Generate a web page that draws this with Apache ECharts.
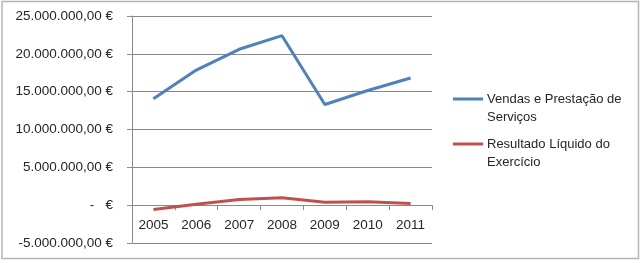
<!DOCTYPE html>
<html>
<head>
<meta charset="utf-8">
<script src="https://cdn.jsdelivr.net/npm/echarts@6/dist/echarts.min.js"></script>
<style>
  html, body { margin: 0; padding: 0; background: #fff; }
  #chart { width: 644px; height: 263px; }
</style>
</head>
<body>
<div id="chart"></div>
<script>
// anos
var anos = ['2005', '2006', '2007', '2008', '2009', '2010', '2011'];
// valores (em euros)
var vendas = [14050000, 17850000, 20600000, 22400000, 13300000, 15150000, 16800000];
var resultado = [-570000, 120000, 750000, 970000, 400000, 450000, 220000];
var nomes = ['Vendas e Prestação de\nServiços', 'Resultado Líquido do\nExercício'];

function euro(v) {
  if (v === 0) return '-   €';
  var neg = v < 0;
  var s = Math.abs(v).toFixed(0).replace(/\B(?=(\d{3})+(?!\d))/g, '.');
  return (neg ? '-' : '') + s + ',00 €';
}

var chart = echarts.init(document.getElementById('chart'));
var fonte = 'Liberation Sans, Arial, sans-serif';

var option = {
  animation: false,
  textStyle: { fontFamily: fonte },
  graphic: [{
    type: 'rect',
    shape: { x: 2, y: 1.5, width: 636.5, height: 257 },
    style: { fill: 'none', stroke: '#b4b4b4', lineWidth: 1.5 },
    silent: true
  }],
  grid: { left: 132, right: 212, top: 16, bottom: 20 },
  legend: {
    orient: 'vertical',
    left: 448,
    top: 67,
    itemWidth: 30,
    itemHeight: 3,
    itemGap: -9,
    icon: 'rect',
    // linha em branco no topo para o traço ficar na primeira linha do texto
    formatter: function (n) { return '\n' + n; },
    textStyle: { fontSize: 13, color: '#262626', lineHeight: 18, fontFamily: fonte, padding: [0, 0, 0, -1] },
    data: nomes
  },
  xAxis: {
    type: 'category',
    data: anos,
    boundaryGap: true,
    axisLine: { onZero: true, lineStyle: { color: '#8a8a8a', width: 1 } },
    axisTick: { show: true, length: 5, inside: false, lineStyle: { color: '#8a8a8a' } },
    axisLabel: { color: '#262626', fontSize: 13.5, margin: -25 }
  },
  yAxis: {
    type: 'value',
    min: -5000000,
    max: 25000000,
    interval: 5000000,
    axisLine: { show: true, lineStyle: { color: '#8a8a8a', width: 1 } },
    axisTick: { show: true, length: 5, lineStyle: { color: '#8a8a8a' } },
    splitLine: { lineStyle: { color: '#8a8a8a', width: 1 } },
    axisLabel: { color: '#262626', fontSize: 13.5, margin: 19, formatter: euro }
  },
  series: [
    {
      name: nomes[0],
      type: 'line',
      data: vendas,
      symbol: 'none',
      color: '#4f81bd',
      lineStyle: { width: 3, color: '#4f81bd' }
    },
    {
      name: nomes[1],
      type: 'line',
      data: resultado,
      symbol: 'none',
      color: '#c0504d',
      lineStyle: { width: 3, color: '#c0504d' }
    }
  ]
};

chart.setOption(option);
</script>
</body>
</html>
